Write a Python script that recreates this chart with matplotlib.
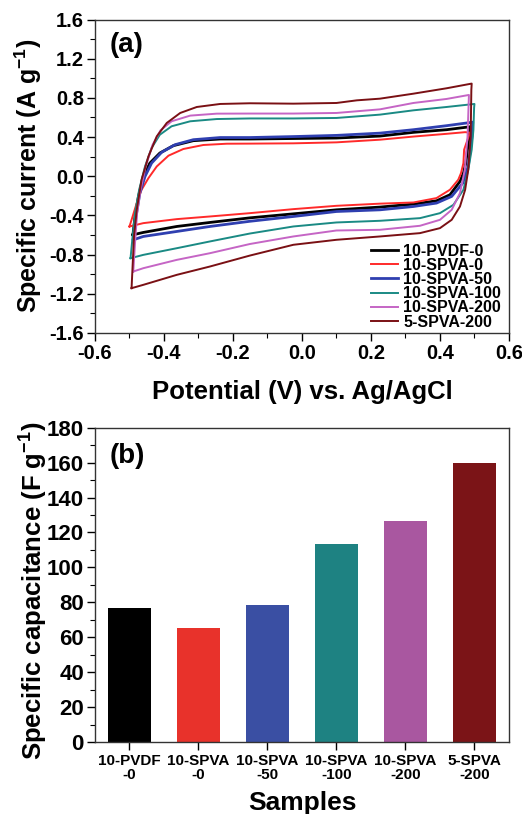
import matplotlib
matplotlib.use("Agg")
import matplotlib.pyplot as plt
from matplotlib.ticker import MultipleLocator

plt.rcParams['font.family'] = ['Liberation Sans', 'DejaVu Sans']
plt.rcParams['font.weight'] = 'bold'
plt.rcParams['axes.unicode_minus'] = False
plt.rcParams['mathtext.fontset'] = 'custom'
plt.rcParams['mathtext.rm'] = 'Liberation Sans:bold'
plt.rcParams['mathtext.it'] = 'Liberation Sans:bold'
plt.rcParams['mathtext.bf'] = 'Liberation Sans:bold'

# --- CV curves (a): forward sweep then reverse sweep ---
pvdf0_v = [-0.490, -0.484, -0.474, -0.460, -0.441, -0.412, -0.373, -0.315, -0.237, -0.151, -0.025, 0.100,
           0.226, 0.323, 0.419, 0.487, 0.482, 0.475, 0.468, 0.458, 0.429, 0.390, 0.323, 0.226, 0.100,
           -0.025, -0.151, -0.267, -0.363, -0.460, -0.490]
pvdf0_i = [-0.598, -0.411, -0.206, -0.002, 0.134, 0.237, 0.312, 0.363, 0.380, 0.380, 0.385, 0.390,
           0.410, 0.448, 0.475, 0.505, 0.339, 0.134, 0.032, -0.053, -0.189, -0.251, -0.285, -0.315, -0.343,
           -0.384, -0.425, -0.472, -0.513, -0.574, -0.598]

spva0_v = [-0.500, -0.491, -0.479, -0.465, -0.445, -0.421, -0.387, -0.344, -0.286, -0.218, -0.151, -0.025,
           0.100, 0.226, 0.323, 0.419, 0.473, 0.487, 0.470, 0.468, 0.461, 0.453, 0.429, 0.390, 0.323,
           0.226, 0.100, -0.025, -0.151, -0.267, -0.363, -0.460, -0.500]
spva0_i = [-0.513, -0.411, -0.274, -0.138, -0.019, 0.100, 0.210, 0.278, 0.319, 0.332, 0.333, 0.336,
           0.346, 0.373, 0.405, 0.433, 0.450, 0.445, 0.271, 0.134, 0.032, -0.036, -0.138, -0.223, -0.268,
           -0.280, -0.302, -0.336, -0.377, -0.411, -0.438, -0.479, -0.513]

spva50_v = [-0.489, -0.481, -0.470, -0.455, -0.436, -0.407, -0.368, -0.315, -0.237, -0.151, -0.025, 0.100,
            0.226, 0.323, 0.419, 0.495, 0.493, 0.482, 0.466, 0.434, 0.390, 0.323, 0.226, 0.100,
            -0.025, -0.151, -0.267, -0.363, -0.460, -0.489]
spva50_i = [-0.649, -0.411, -0.172, -0.002, 0.134, 0.244, 0.322, 0.373, 0.395, 0.395, 0.405, 0.417,
            0.440, 0.475, 0.516, 0.552, 0.407, 0.100, -0.070, -0.206, -0.274, -0.309, -0.343, -0.360,
            -0.411, -0.460, -0.513, -0.564, -0.615, -0.649]

spva100_v = [-0.497, -0.491, -0.484, -0.472, -0.455, -0.436, -0.412, -0.378, -0.324, -0.247, -0.151, -0.025,
             0.100, 0.226, 0.323, 0.419, 0.500, 0.499, 0.497, 0.492, 0.482, 0.468, 0.439, 0.400, 0.342,
             0.226, 0.100, -0.025, -0.151, -0.267, -0.363, -0.460, -0.497]
spva100_i = [-0.837, -0.615, -0.377, -0.138, 0.100, 0.288, 0.424, 0.510, 0.561, 0.584, 0.590, 0.590,
             0.595, 0.629, 0.673, 0.707, 0.738, 0.700, 0.475, 0.271, 0.066, -0.138, -0.292, -0.377, -0.428,
             -0.455, -0.472, -0.513, -0.585, -0.666, -0.735, -0.803, -0.837]

spva200_v = [-0.489, -0.484, -0.478, -0.468, -0.453, -0.433, -0.410, -0.378, -0.324, -0.247, -0.151, -0.025,
             0.100, 0.226, 0.323, 0.419, 0.484, 0.480, 0.472, 0.458, 0.434, 0.400, 0.342, 0.226, 0.100,
             -0.025, -0.151, -0.267, -0.363, -0.460, -0.489]
spva200_i = [-0.973, -0.683, -0.377, -0.138, 0.100, 0.322, 0.469, 0.561, 0.619, 0.639, 0.640, 0.640,
             0.646, 0.683, 0.748, 0.789, 0.830, 0.407, 0.066, -0.172, -0.343, -0.445, -0.506, -0.547, -0.554,
             -0.615, -0.692, -0.786, -0.854, -0.939, -0.973]

s5spva200_v = [-0.494, -0.487, -0.479, -0.465, -0.445, -0.421, -0.392, -0.353, -0.305, -0.237, -0.151, -0.025,
               0.100, 0.159, 0.226, 0.323, 0.419, 0.492, 0.491, 0.489, 0.482, 0.473, 0.458, 0.434, 0.400,
               0.342, 0.226, 0.100, -0.025, -0.151, -0.267, -0.363, -0.460, -0.494]
s5spva200_i = [-1.143, -0.615, -0.343, -0.036, 0.203, 0.407, 0.544, 0.646, 0.707, 0.738, 0.745, 0.741,
               0.748, 0.775, 0.792, 0.843, 0.898, 0.946, 0.884, 0.407, 0.066, -0.138, -0.309, -0.445, -0.530,
               -0.581, -0.615, -0.649, -0.700, -0.810, -0.922, -1.007, -1.109, -1.143]

cv_labels = ["10-PVDF-0", "10-SPVA-0", "10-SPVA-50", "10-SPVA-100", "10-SPVA-200", "5-SPVA-200"]
cv_colors = ["#000000", "#ff2a2a", "#2f3fb0", "#1a8a84", "#c565c5", "#7a1014"]

# --- bar chart (b) ---
samples = ["10-PVDF\n-0", "10-SPVA\n-0", "10-SPVA\n-50", "10-SPVA\n-100", "10-SPVA\n-200", "5-SPVA\n-200"]
capacitance = [76.8, 65.5, 78.7, 113.3, 126.7, 160.0]
bar_colors = ["#000000", "#e8322b", "#3a4fa3", "#1e8282", "#a957a0", "#7b1417"]

fig = plt.figure(figsize=(5.22, 8.14), dpi=100)
ax1 = fig.add_axes([0.182, 0.591, 0.793, 0.385])
ax2 = fig.add_axes([0.182, 0.0885, 0.793, 0.386])

curves = [(pvdf0_v, pvdf0_i), (spva0_v, spva0_i), (spva50_v, spva50_i),
          (spva100_v, spva100_i), (spva200_v, spva200_i), (s5spva200_v, s5spva200_i)]
for (v, i), lab, col in zip(curves, cv_labels, cv_colors):
    lw = 2.0 if lab in ("10-PVDF-0", "10-SPVA-50") else 1.4
    ax1.plot(v, i, color=col, lw=lw, label=lab)

ax1.set_xlim(-0.6, 0.6)
ax1.set_ylim(-1.6, 1.6)
ax1.xaxis.set_major_locator(MultipleLocator(0.2))
ax1.xaxis.set_minor_locator(MultipleLocator(0.1))
ax1.yaxis.set_major_locator(MultipleLocator(0.4))
ax1.yaxis.set_minor_locator(MultipleLocator(0.2))
ax1.set_xticklabels([f"{t:.1f}" for t in ax1.get_xticks()])
ax1.set_yticklabels([f"{t:.1f}" for t in ax1.get_yticks()])
ax1.set_xlabel("Potential (V) vs. Ag/AgCl", fontsize=18.5, fontweight='bold', va='top')
ax1.set_ylabel(r"Specific current (A g$^{-1}$)", fontsize=18, fontweight='bold')
ax1.xaxis.set_label_coords(0.5, -0.15)
ax1.yaxis.set_label_coords(-0.124, 0.5)
ax1.text(0.036, 0.96, "(a)", transform=ax1.transAxes, fontsize=20, fontweight='bold', va='top')
leg = ax1.legend(loc='lower right', bbox_to_anchor=(1.004, -0.02), frameon=False, fontsize=11.5,
                 handlelength=1.7, handletextpad=0.3, labelspacing=-0.05, borderaxespad=0.2)

ax2.bar(range(1, 7), capacitance, width=0.62, color=bar_colors)
ax2.set_xlim(0.5, 6.5)
ax2.set_ylim(0, 180)
ax2.set_xticks(range(1, 7))
ax2.set_xticklabels(samples, fontsize=11, fontweight='bold', linespacing=1.0)
ax2.yaxis.set_major_locator(MultipleLocator(20))
ax2.yaxis.set_minor_locator(MultipleLocator(10))
ax2.set_xlabel("Samples", fontsize=19, fontweight='bold', va='top')
ax2.set_ylabel(r"Specific capacitance (F g$^{-1}$)", fontsize=18.5, fontweight='bold')
ax2.xaxis.set_label_coords(0.5, -0.155)
ax2.yaxis.set_label_coords(-0.108, 0.48)
ax2.text(0.036, 0.95, "(b)", transform=ax2.transAxes, fontsize=20, fontweight='bold', va='top')

for ax in (ax1, ax2):
    for sp in ax.spines.values():
        sp.set_linewidth(1.0)
        sp.set_color('#333333')
    ax.tick_params(which='major', direction='out', length=6, width=1, labelsize=14.5, pad=2)
    ax.tick_params(which='minor', direction='out', length=3.5, width=0.8)
    for lab in ax.get_yticklabels():
        lab.set_fontweight('bold')
ax2.tick_params(axis='x', which='major', labelsize=11, pad=3)
ax2.tick_params(axis='y', labelsize=16)
for lab in ax1.get_xticklabels():
    lab.set_fontweight('bold')

fig.savefig("out.png", dpi=100)
